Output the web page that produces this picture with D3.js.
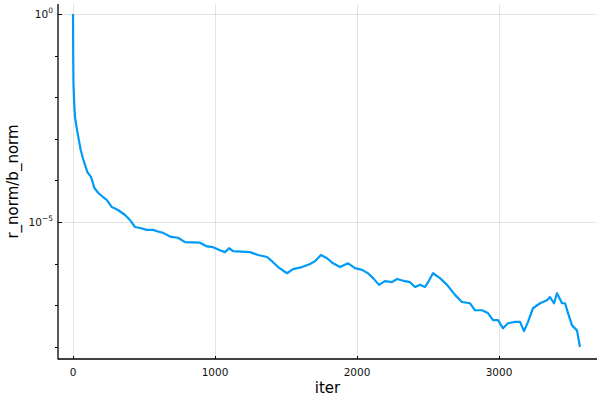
<!DOCTYPE html>
<html>
<head>
<meta charset="utf-8">
<script src="https://cdn.jsdelivr.net/npm/d3@7"></script>
<style>
  html, body { margin: 0; padding: 0; background: #fff; }
  svg { display: block; font-family: "DejaVu Sans", sans-serif; }
</style>
</head>
<body>
<svg id="chart" width="600" height="400"></svg>
<script>
// ---- data ----
const iters = [0,1,3,7,14,28,54,73,101,127,
  150,178,211,237,273,317,366,401,437,472,
  519,563,592,634,690,739,789,894,944,986,
  1035,1070,1099,1127,1246,1303,1366,1401,1444,1507,
  1549,1613,1669,1704,1746,1789,1831,1880,1937,1986,
  2035,2077,2113,2155,2197,2246,2282,2338,2373,2408,
  2444,2479,2500,2535,2584,2634,2690,2739,2796,2831,
  2880,2922,2958,2993,3028,3063,3113,3148,3176,3204,
  3239,3289,3338,3359,3387,3408,3444,3465,3486,3514,
  3549,3570];
const rnorm = [1,1e-1,2.19e-2,8.5e-3,3.3e-3,1.62e-3,5.4e-4,3.1e-4,1.58e-4,1.2e-4,
  6.6e-5,5.0e-5,4.0e-5,3.4e-5,2.3e-5,1.95e-5,1.48e-5,1.12e-5,7.6e-6,7.2e-6,
  6.5e-6,6.5e-6,6.0e-6,5.5e-6,4.4e-6,4.2e-6,3.3e-6,3.2e-6,2.6e-6,2.5e-6,
  2.1e-6,1.9e-6,2.35e-6,2.0e-6,1.9e-6,1.62e-6,1.45e-6,1.15e-6,8.3e-7,5.9e-7,
  7.4e-7,8.3e-7,9.8e-7,1.15e-6,1.62e-6,1.35e-6,1.02e-6,8.3e-7,1.02e-6,7.8e-7,
  7.1e-7,5.9e-7,4.5e-7,3.1e-7,3.8e-7,3.6e-7,4.3e-7,3.8e-7,3.6e-7,2.75e-7,
  3.1e-7,2.75e-7,3.6e-7,5.9e-7,4.5e-7,3.1e-7,1.78e-7,1.2e-7,1.12e-7,7.6e-8,
  7.6e-8,6.5e-8,4.4e-8,4.4e-8,2.8e-8,3.7e-8,4.0e-8,4.0e-8,2.4e-8,4.0e-8,
  8.5e-8,1.12e-7,1.32e-7,1.58e-7,1.12e-7,1.95e-7,1.12e-7,1.12e-7,6.5e-8,3.3e-8,
  2.5e-8,1.0e-8];
const xTicks = [0, 1000, 2000, 3000];
const yMajorExps = [0, -5];
const yMinorTicks = [1e-1, 1e-2, 1e-3, 1e-4, 1e-6, 1e-7, 1e-8];
const xLabel = "iter";
const yLabel = "r_norm/b_norm";

// ---- layout ----
const pL = 58, pR = 597, pT = 4, pB = 359;
const svg = d3.select("#chart");

const x = d3.scaleLinear().domain([-106, 3690]).range([pL, pR]);
const y = d3.scaleLog().domain([Math.pow(10, -8.29), Math.pow(10, 0.24)]).range([pB, pT]);

// gridlines
const grid = svg.append("g").attr("stroke", "rgba(0,0,0,0.1)").attr("stroke-width", 1);
grid.selectAll("line.gx").data(xTicks).join("line")
  .attr("x1", d => Math.round(x(d)) + 0.5).attr("x2", d => Math.round(x(d)) + 0.5)
  .attr("y1", pT).attr("y2", pB);
grid.selectAll("line.gy").data(yMajorExps).join("line")
  .attr("y1", d => Math.round(y(Math.pow(10, d))) + 0.5).attr("y2", d => Math.round(y(Math.pow(10, d))) + 0.5)
  .attr("x1", pL).attr("x2", pR);

// series
const line = d3.line().x((d, i) => x(iters[i])).y(d => y(d));
svg.append("path").datum(rnorm)
  .attr("fill", "none").attr("stroke", "#009af9").attr("stroke-width", 2.2)
  .attr("stroke-linejoin", "round")
  .attr("d", line);

// axes spines
const ax = svg.append("g").attr("stroke", "#000").attr("stroke-width", 1.3);
ax.append("line").attr("x1", pL).attr("x2", pL).attr("y1", pT).attr("y2", pB + 0.5);
ax.append("line").attr("x1", pL).attr("x2", pR).attr("y1", pB).attr("y2", pB);

// x ticks (inward)
ax.selectAll("line.xt").data(xTicks).join("line")
  .attr("stroke-width", 1)
  .attr("x1", d => Math.round(x(d)) + 0.5).attr("x2", d => Math.round(x(d)) + 0.5)
  .attr("y1", pB).attr("y2", pB - 3);
// y major ticks (inward)
ax.selectAll("line.yt").data(yMajorExps).join("line")
  .attr("stroke-width", 1)
  .attr("y1", d => Math.round(y(Math.pow(10, d))) + 0.5).attr("y2", d => Math.round(y(Math.pow(10, d))) + 0.5)
  .attr("x1", pL).attr("x2", pL + 4);
// y minor ticks (outward)
ax.selectAll("line.ym").data(yMinorTicks).join("line")
  .attr("stroke-width", 1)
  .attr("y1", d => Math.round(y(d)) + 0.5).attr("y2", d => Math.round(y(d)) + 0.5)
  .attr("x1", pL - 3).attr("x2", pL);

// x tick labels
svg.selectAll("text.xl").data(xTicks).join("text")
  .attr("x", d => x(d)).attr("y", 376)
  .attr("text-anchor", "middle").attr("font-size", 10.5).attr("fill", "#111")
  .text(d => d);

// y tick labels (10^e)
const yl = svg.selectAll("text.yl").data(yMajorExps).join("text")
  .attr("x", 53).attr("y", d => y(Math.pow(10, d)) + 4)
  .attr("text-anchor", "end").attr("font-size", 10.5).attr("fill", "#111");
yl.append("tspan").text("10");
yl.append("tspan").attr("dy", -5).attr("font-size", 7.5)
  .text(d => d === 0 ? "0" : "\u2212" + Math.abs(d));

// axis labels
svg.append("text").attr("x", (pL + pR) / 2).attr("y", 393)
  .attr("text-anchor", "middle").attr("font-size", 15).attr("fill", "#000")
  .text(xLabel);
svg.append("text").attr("transform", "translate(18," + ((pT + pB) / 2) + ") rotate(-90)")
  .attr("text-anchor", "middle").attr("font-size", 15).attr("fill", "#000")
  .text(yLabel);
</script>
</body>
</html>
